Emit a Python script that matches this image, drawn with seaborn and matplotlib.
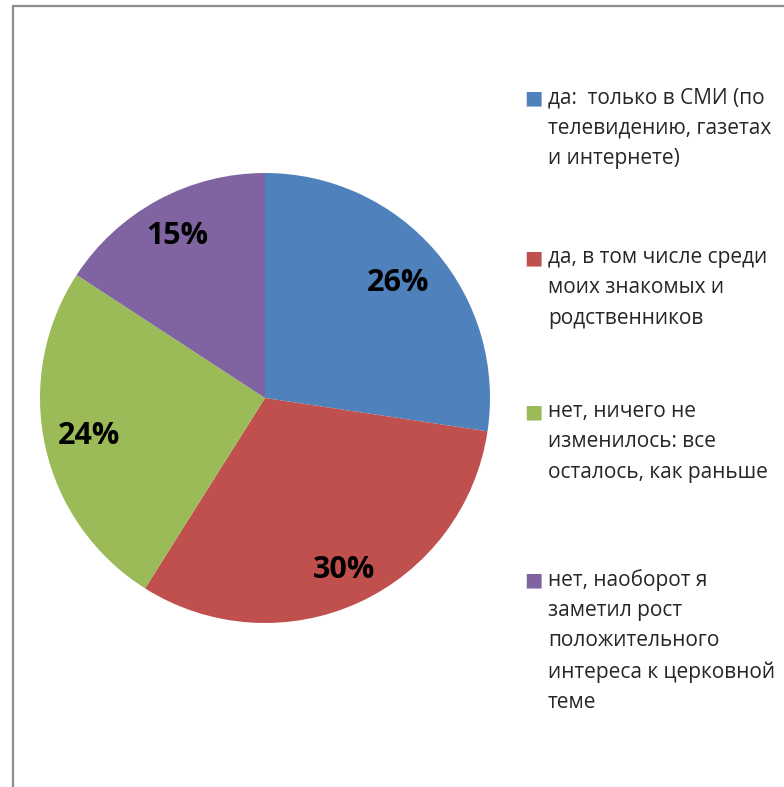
import matplotlib
matplotlib.use("Agg")
import matplotlib.pyplot as plt
import seaborn as sns
import numpy as np
from matplotlib.lines import Line2D

categories = [
    "да:  только в СМИ (по\nтелевидению, газетах\nи интернете)",
    "да, в том числе среди\nмоих знакомых и\nродственников",
    "нет, ничего не\nизменилось: все\nосталось, как раньше",
    "нет, наоборот я\nзаметил рост\nположительного\nинтереса к церковной\nтеме",
]
values = [26, 30, 24, 15]
colors = ["#4F81BD", "#C0504D", "#9BBB59", "#8064A2"]

sns.set_theme(style="white")
plt.rcParams["font.family"] = ["Open Sans", "DejaVu Sans"]

W, H = 784, 787
fig = plt.figure(figsize=(W / 100, H / 100), dpi=100)
fig.patch.set_facecolor("white")

cx, cy, r = 265, 398, 225
ax = fig.add_axes([(cx - r) / W, (H - cy - r) / H, 2 * r / W, 2 * r / H])
wedges, texts = ax.pie(
    values, colors=colors, startangle=90, counterclock=False,
    wedgeprops=dict(linewidth=0),
)
pct_dist = [0.78, 0.84, 0.8, 0.82]
for w, v, d in zip(wedges, values, pct_dist):
    ang = np.deg2rad((w.theta1 + w.theta2) / 2)
    ax.text(d * np.cos(ang), d * np.sin(ang), f"{v}%",
            ha="center", va="center", fontsize=22, fontweight="bold",
            color="black")
ax.set_xlim(-1, 1)
ax.set_ylim(-1, 1)
ax.set_aspect("equal")
ax.axis("off")

# legend (manual, markers aligned to first line)
entry_tops = [98, 258, 412, 580]
for lab, col, yt in zip(categories, colors, entry_tops):
    fig.text(524 / W, 1 - yt / H, "■", color=col, fontsize=14,
             ha="left", va="center", family=["DejaVu Sans"])
    fig.text(548 / W, 1 - (yt - 11) / H, lab, color="#262626", fontsize=15,
             ha="left", va="top", linespacing=1.58)

# frame lines
fig.add_artist(Line2D([13.5 / W, 13.5 / W], [0, 1 - 5.5 / H],
                      color="#8c8c8c", lw=1.6, transform=fig.transFigure))
fig.add_artist(Line2D([13.5 / W, 1], [1 - 5.5 / H, 1 - 5.5 / H],
                      color="#8c8c8c", lw=1.6, transform=fig.transFigure))

fig.savefig("out.png", dpi=100, facecolor="white")
